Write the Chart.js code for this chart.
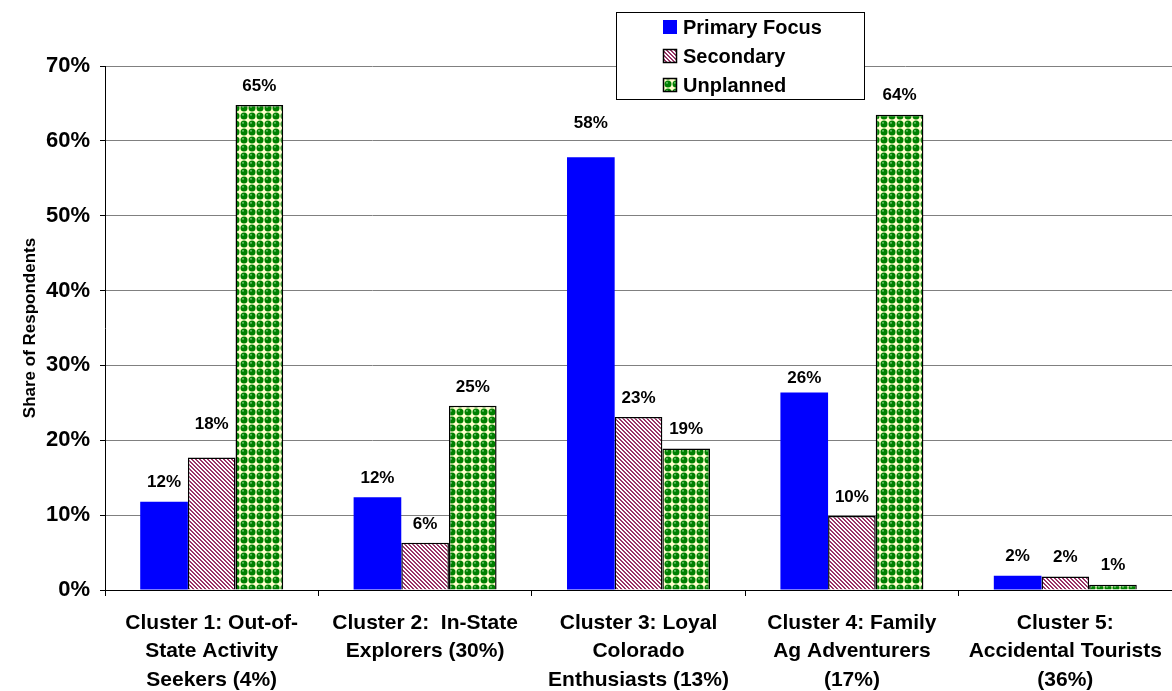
<!DOCTYPE html>
<html>
<head>
<meta charset="utf-8">
<script src="https://cdn.jsdelivr.net/npm/chart.js@4.4.1/dist/chart.umd.min.js"></script>
<style>
  html, body { margin: 0; padding: 0; background: #fff; }
  #wrap { width: 1172px; height: 691px; position: relative; }
</style>
</head>
<body>
<div id="wrap"><canvas id="myChart"></canvas></div>
<script>
// Data (share of respondents, %)
const categories = [
  ["Cluster 1: Out-of-", "State Activity", "Seekers (4%)"],
  ["Cluster 2:  In-State", "Explorers (30%)"],
  ["Cluster 3: Loyal", "Colorado", "Enthusiasts (13%)"],
  ["Cluster 4: Family", "Ag Adventurers", "(17%)"],
  ["Cluster 5:", "Accidental Tourists", "(36%)"]
];
const seriesNames = ["Primary Focus", "Secondary", "Unplanned"];
const primaryFocus = [11.8, 12.4, 57.8, 26.4, 1.9];
const secondary = [17.7, 6.3, 23.1, 9.9, 1.8];
const unplanned = [64.8, 24.6, 18.9, 63.5, 0.7];
const yTicks = [0, 10, 20, 30, 40, 50, 60, 70];

const FONT = "'Liberation Sans', Arial, sans-serif";

// a few labels sit higher/lower than the rest in the original (dataset-index)
const labelLift = { "1-0": 33, "0-2": 34, "0-3": 14 };

// fill patterns like the old Excel ones
function stripePattern(ctx) {
  const c = document.createElement("canvas");
  c.width = 8; c.height = 8;
  const g = c.getContext("2d");
  const img = g.createImageData(8, 8);
  for (let y = 0; y < 8; y++) {
    for (let x = 0; x < 8; x++) {
      const on = (((x - y) % 4) + 4) % 4 < 2;
      const i = (y * 8 + x) * 4;
      img.data[i] = on ? 153 : 255;
      img.data[i + 1] = on ? 51 : 255;
      img.data[i + 2] = on ? 102 : 255;
      img.data[i + 3] = 255;
    }
  }
  g.putImageData(img, 0, 0);
  return ctx.createPattern(c, "repeat");
}

function spherePattern(ctx) {
  const c = document.createElement("canvas");
  c.width = 8; c.height = 8;
  const g = c.getContext("2d");
  g.fillStyle = "#FFFFCC";
  g.fillRect(0, 0, 8, 8);
  g.fillStyle = "#008000";
  g.beginPath();
  g.arc(4, 4, 3.5, 0, Math.PI * 2);
  g.fill();
  g.fillStyle = "#5DBB5D";
  g.beginPath();
  g.arc(3, 2.8, 1.1, 0, Math.PI * 2);
  g.fill();
  return ctx.createPattern(c, "repeat");
}

const ctx = document.getElementById("myChart").getContext("2d");
const fills = ["#0000FF", stripePattern(ctx), spherePattern(ctx)];
const borders = [0, 1.5, 1.5];

// value labels above each bar
const valueLabels = {
  id: "valueLabels",
  afterDatasetsDraw(chart) {
    const c = chart.ctx;
    c.save();
    c.font = "bold 17px " + FONT;
    c.fillStyle = "#000";
    c.textAlign = "center";
    c.textBaseline = "middle";
    chart.data.datasets.forEach((ds, di) => {
      chart.getDatasetMeta(di).data.forEach((bar, i) => {
        const lift = labelLift[di + "-" + i] || 19;
        c.fillText(Math.round(ds.data[i]) + "%", bar.x, bar.y - lift);
      });
    });
    c.restore();
  }
};

// boxed legend over the top of the plot
const boxLegend = {
  id: "boxLegend",
  afterDraw(chart) {
    const c = chart.ctx;
    c.save();
    c.fillStyle = "#fff";
    c.fillRect(616, 12, 248, 87);
    c.strokeStyle = "#000";
    c.lineWidth = 1;
    c.strokeRect(616.5, 12.5, 248, 87);
    c.font = "bold 20px " + FONT;
    c.textBaseline = "middle";
    c.textAlign = "left";
    const rows = [27, 56, 85];
    chart.data.datasets.forEach((ds, di) => {
      const y = rows[di];
      c.fillStyle = ds.backgroundColor;
      c.fillRect(663, y - 7, 14, 14);
      if (ds.borderWidth) {
        c.strokeStyle = "#000";
        c.lineWidth = 1.5;
        c.strokeRect(663.5, y - 6.5, 13, 13);
      }
      c.fillStyle = "#000";
      c.fillText(ds.label, 683, y + 1);
    });
    c.restore();
  }
};

new Chart(ctx, {
  type: "bar",
  data: {
    labels: categories,
    datasets: seriesNames.map((name, i) => ({
      label: name,
      data: [primaryFocus, secondary, unplanned][i],
      backgroundColor: fills[i],
      borderColor: "#000",
      borderWidth: borders[i],
      categoryPercentage: 0.67,
      barPercentage: 1.0
    }))
  },
  plugins: [valueLabels, boxLegend],
  options: {
    responsive: true,
    maintainAspectRatio: false,
    animation: false,
    layout: { padding: { top: 66, right: 0, left: 0, bottom: 0 } },
    plugins: {
      legend: { display: false },
      tooltip: { enabled: false }
    },
    scales: {
      x: {
        grid: { drawOnChartArea: false, drawTicks: true, tickLength: 6, color: "#000" },
        border: { display: true, color: "#000", width: 1 },
        ticks: {
          color: "#000",
          font: { family: FONT, size: 21, weight: "bold", lineHeight: 1.35 },
          padding: 13,
          maxRotation: 0,
          autoSkip: false
        },
        afterFit(scale) {
          scale.height = 101;
          scale.paddingLeft = 0;
          scale.paddingRight = 0;
        }
      },
      y: {
        min: 0,
        max: 70,
        afterBuildTicks(scale) {
          scale.ticks = yTicks.map((v) => ({ value: v }));
        },
        grid: { color: "#808080", lineWidth: 1, tickLength: 5, tickColor: "#000" },
        border: { display: true, color: "#000", width: 1 },
        ticks: {
          color: "#000",
          font: { family: FONT, size: 22, weight: "bold" },
          padding: 10,
          callback: (v) => v + "%"
        },
        title: {
          display: true,
          text: "Share of Respondents",
          color: "#000",
          font: { family: FONT, size: 17, weight: "bold" },
          padding: { top: 20, bottom: 0 }
        },
        afterFit(scale) {
          scale.width = 105;
        }
      }
    }
  }
});
</script>
</body>
</html>
